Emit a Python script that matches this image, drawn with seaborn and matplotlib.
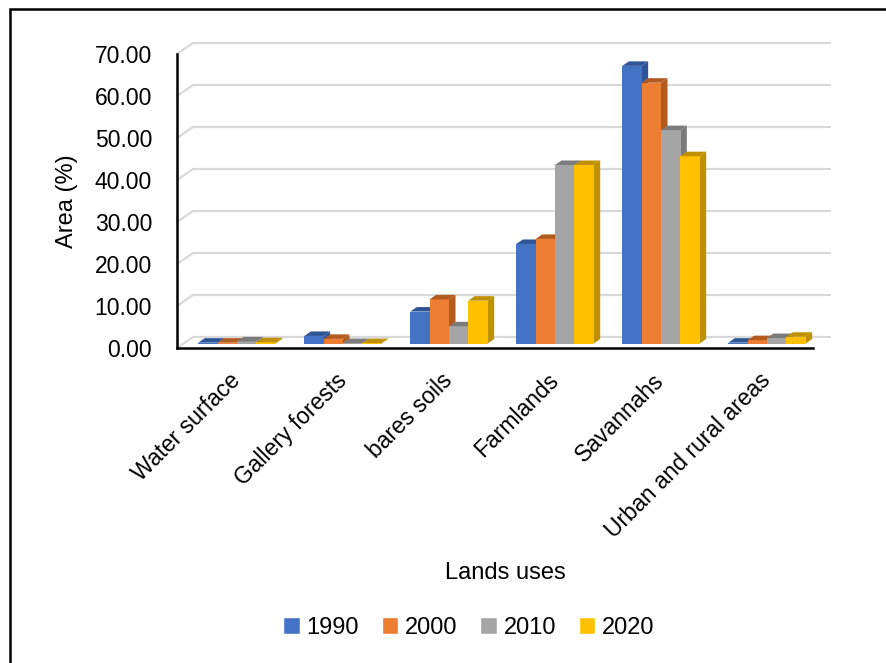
import numpy as np
import pandas as pd
import matplotlib
matplotlib.use("Agg")
import matplotlib.pyplot as plt
import matplotlib.transforms as mtransforms
from matplotlib.patches import Polygon, Rectangle
import seaborn as sns

categories = ["Water surface", "Gallery forests", "bares soils",
              "Farmlands", "Savannahs", "Urban and rural areas"]
years = ["1990", "2000", "2010", "2020"]
area_1990 = [0.2, 1.8, 7.6, 23.7, 66.1, 0.2]
area_2000 = [0.2, 1.1, 10.5, 24.9, 62.1, 0.8]
area_2010 = [0.5, 0.1, 4.1, 42.5, 50.8, 1.3]
area_2020 = [0.3, 0.1, 10.2, 42.5, 44.6, 1.6]
yticks = [0, 10, 20, 30, 40, 50, 60, 70]

colors = ["#4472C4", "#ED7D31", "#A5A5A5", "#FFC000"]
dark = ["#2F5597", "#B35A1F", "#7B7B7B", "#BF9000"]

df = pd.DataFrame({
    "Land": categories * 4,
    "Year": [y for y in years for _ in categories],
    "Area": area_1990 + area_2000 + area_2010 + area_2020,
})

sns.set_style("white")
plt.rcParams["font.family"] = ["Liberation Sans", "DejaVu Sans"]
plt.rcParams.update({"text.color": "black", "axes.labelcolor": "black",
                     "xtick.color": "black", "ytick.color": "black"})

fig = plt.figure(figsize=(8.87, 6.63), dpi=100)
ax = fig.add_axes([177 / 887, 1 - 348 / 663, 636 / 887, 294 / 663])

sns.barplot(data=df, x="Land", y="Area", hue="Year", order=categories,
            hue_order=years, palette=colors, width=0.73, gap=0,
            saturation=1, ax=ax, zorder=3)
handles, labels = ax.get_legend_handles_labels()
ax.legend_.remove()

x0, x1 = -0.566, 5.434
ax.set_xlim(x0, x1)
ax.set_ylim(0, 70)

# pixel -> data units for the fake 3D depth
px_x = (x1 - x0) / 636
px_y = 70 / 294
wall_dx, wall_dy = 16 * px_x, 11 * px_y
bar_dx, bar_dy = 6.5 * px_x, 4.5 * px_y

# back wall gridlines
for v in yticks:
    ax.plot([x0, x0 + wall_dx, x0 + (830 - 177) * px_x],
            [v, v + wall_dy, v + wall_dy], color="#D9D9D9", lw=1.6,
            clip_on=False, zorder=1)

# bars sit a little behind the front plane
shifted = mtransforms.offset_copy(ax.transData, fig=fig, x=0, y=4.5, units="dots")

# bar depth (top + side faces)
for k, cont in enumerate(ax.containers):
    for p in cont.patches:
        bx, bw, bh = p.get_x(), p.get_width(), p.get_height()
        order = 3 + k * 0.1
        p.set_zorder(order)
        p.set_linewidth(0)
        p.set_transform(shifted)
        p.set_clip_on(False)
        top = Polygon([(bx, bh), (bx + bar_dx, bh + bar_dy),
                       (bx + bw + bar_dx, bh + bar_dy), (bx + bw, bh)],
                      closed=True, fc=dark[k], ec="none", zorder=order,
                      clip_on=False, transform=shifted)
        side = Polygon([(bx + bw, 0), (bx + bw + bar_dx, bar_dy),
                        (bx + bw + bar_dx, bh + bar_dy), (bx + bw, bh)],
                       closed=True, fc=dark[k], ec="none", zorder=order - 0.05,
                       clip_on=False, transform=shifted)
        ax.add_patch(side)
        ax.add_patch(top)

sns.despine(ax=ax, top=True, right=True)
for s in ["left", "bottom"]:
    ax.spines[s].set_color("black")
    ax.spines[s].set_linewidth(1.8)
    ax.spines[s].set_zorder(6)

ax.set_yticks(yticks)
ax.set_yticklabels([f"{v:.2f}" for v in yticks])
ax.tick_params(axis="y", length=0, pad=18, labelsize=16.5, labelcolor="black")
ax.tick_params(axis="x", length=0, pad=21, labelsize=16.5, labelcolor="black")
plt.setp(ax.get_xticklabels(), rotation=45, ha="right", va="center",
         rotation_mode="anchor")

ax.set_ylabel("Area (%)", fontsize=17, labelpad=12, color="black")
ax.set_xlabel("")
fig.text(505 / 887, 1 - 573 / 663, "Lands uses", ha="center", va="center",
         fontsize=17, color="black")

fig.legend(handles, labels, loc="center", bbox_to_anchor=(469 / 887, 1 - 628 / 663),
           ncol=4, frameon=False, fontsize=17, handlelength=0.7,
           handleheight=0.7, handletextpad=0.3, columnspacing=0.95,
           labelcolor="black")

fig.patches.append(Rectangle((10 / 887, -0.02), 1.1, 1 - 9 / 663 + 0.02,
                             transform=fig.transFigure, fill=False,
                             ec="black", lw=1.8))

fig.savefig("out.png", dpi=100)
